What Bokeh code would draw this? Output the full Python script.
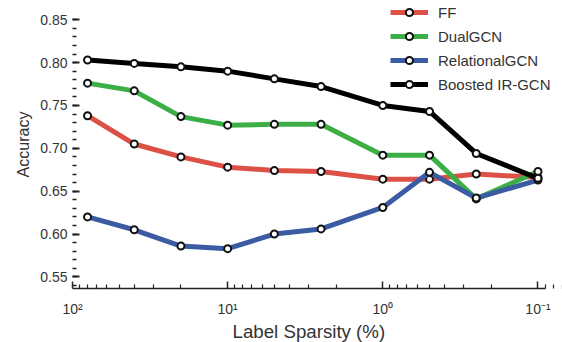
import math
from bokeh.plotting import figure
from bokeh.models import (Range1d, FixedTicker, SingleIntervalTicker, CustomJSTickFormatter,
                          PrintfTickFormatter, Legend, LegendItem, Title)
from bokeh.embed import file_html
from bokeh.resources import INLINE

# ---- data ----
sparsity = [80, 40, 20, 10, 5, 2.5, 1, 0.5, 0.25, 0.1]
ff = [0.738, 0.705, 0.690, 0.678, 0.674, 0.673, 0.664, 0.664, 0.670, 0.666]
dualgcn = [0.776, 0.767, 0.737, 0.727, 0.728, 0.728, 0.692, 0.692, 0.641, 0.673]
relgcn = [0.620, 0.605, 0.586, 0.583, 0.600, 0.606, 0.631, 0.672, 0.642, 0.663]
boosted = [0.803, 0.799, 0.795, 0.790, 0.781, 0.772, 0.750, 0.743, 0.694, 0.665]
series_names = ["FF", "DualGCN", "RelationalGCN", "Boosted IR-GCN"]
series_values = [ff, dualgcn, relgcn, boosted]
series_colors = ["#dc5046", "#3cae46", "#3b5ca3", "#000000"]
x_major_ticks = [100, 10, 1, 0.1]
x_minor_ticks = [m * 10.0 ** k for k in range(-2, 2) for m in range(2, 10)]
x_axis_bounds = (0.0895, 100)
y_axis_bounds = (0.5365, 0.8595)
y_tick_step = 0.05
x_label = "Label Sparsity (%)"
y_label = "Accuracy"

FONT = "Liberation Sans"
TXT = "#333333"

p = figure(width=562, height=342, x_axis_type="log",
           x_range=Range1d(100, 0.0695), y_range=Range1d(0.5365, 0.8724),
           output_backend="svg", toolbar_location=None,
           min_border_left=72, min_border_right=0, min_border_top=0, min_border_bottom=52)
p.xgrid.visible = False
p.ygrid.visible = False
p.outline_line_color = None
p.background_fill_color = "white"
p.border_fill_color = "white"

items = []
for name, vals, col in zip(series_names, series_values, series_colors):
    lr = p.line(sparsity, vals, line_color=col, line_width=5)
    sr = p.scatter(sparsity, vals, size=7, fill_color="white", line_color="#111111", line_width=2)
    items.append(LegendItem(label=name, renderers=[lr, sr]))

# x axis
xa = p.xaxis[0]
xa.bounds = x_axis_bounds
xa.ticker = FixedTicker(ticks=x_major_ticks, minor_ticks=x_minor_ticks)
xa.formatter = CustomJSTickFormatter(code="""
const sup = {"-":"\u207b","0":"\u2070","1":"\u00b9","2":"\u00b2","3":"\u00b3","4":"\u2074",
             "5":"\u2075","6":"\u2076","7":"\u2077","8":"\u2078","9":"\u2079"};
const e = Math.round(Math.log10(tick));
return "10" + String(e).split("").map(c => sup[c]).join("");
""")
xa.axis_line_width = 1.5
xa.axis_line_color = "#222222"
xa.major_tick_in = 7
xa.major_tick_out = 0
xa.minor_tick_in = 4
xa.minor_tick_out = 0
xa.major_tick_line_width = 1.5
xa.minor_tick_line_width = 1.2
xa.major_tick_line_color = "#222222"
xa.minor_tick_line_color = "#222222"
xa.major_label_text_font = FONT
xa.major_label_text_font_size = "14px"
xa.major_label_text_color = TXT
xa.major_label_standoff = 12

# x axis title, left-aligned under the bounded axis
p.add_layout(Title(text=x_label, align="left", offset=160, vertical_align="middle", standoff=0,
                   text_font=FONT, text_font_size="18.7px", text_font_style="normal",
                   text_color=TXT), "below")

# y axis
ya = p.yaxis[0]
ya.bounds = y_axis_bounds
ya.ticker = SingleIntervalTicker(interval=y_tick_step, num_minor_ticks=5)
ya.formatter = PrintfTickFormatter(format="%.2f")
ya.axis_line_color = None
ya.major_tick_in = 7
ya.major_tick_out = 0
ya.minor_tick_in = 4
ya.minor_tick_out = 0
ya.major_tick_line_width = 2
ya.minor_tick_line_width = 1.5
ya.major_tick_line_color = "#222222"
ya.minor_tick_line_color = "#222222"
ya.major_label_text_font = FONT
ya.major_label_text_font_size = "14px"
ya.major_label_text_color = TXT
ya.major_label_standoff = 5
ya.axis_label = y_label
ya.axis_label_text_font = FONT
ya.axis_label_text_font_size = "16px"
ya.axis_label_text_font_style = "normal"
ya.axis_label_text_color = TXT
ya.axis_label_standoff = 5

legend = Legend(items=items, location=(318, 195), padding=0, margin=0, spacing=6,
                glyph_width=38, glyph_height=18, label_height=18, label_standoff=10,
                label_text_font=FONT, label_text_font_size="15px", label_text_color=TXT,
                background_fill_alpha=0, border_line_alpha=0)
p.add_layout(legend)

open("out.html", "w").write(file_html(p, INLINE))
